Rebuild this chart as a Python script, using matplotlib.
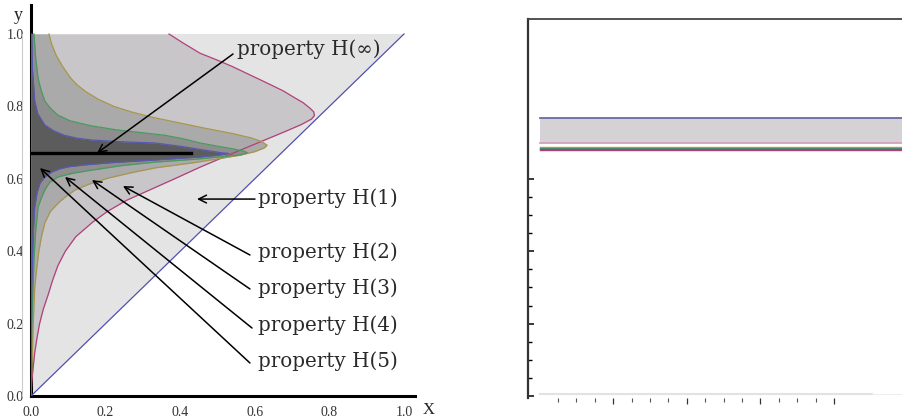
import matplotlib
matplotlib.use("Agg")
import matplotlib.pyplot as plt
from matplotlib.lines import Line2D

# curves: x of each boundary as a function of y
mag_y = [0.0, 0.02, 0.05, 0.08, 0.12, 0.16, 0.20, 0.24, 0.28, 0.32, 0.36, 0.40, 0.44,
         0.48, 0.51, 0.54, 0.57, 0.60, 0.633, 0.67, 0.70, 0.73, 0.75, 0.765, 0.775,
         0.785, 0.795, 0.81, 0.825, 0.843, 0.865, 0.887, 0.91, 0.928, 0.947, 0.975, 1.0]
mag_x = [0.0, 0.001, 0.003, 0.006, 0.010, 0.016, 0.023, 0.033, 0.046, 0.058, 0.072,
         0.092, 0.12, 0.165, 0.205, 0.255, 0.32, 0.385, 0.455, 0.54, 0.61, 0.68, 0.725,
         0.752, 0.760, 0.758, 0.748, 0.73, 0.705, 0.676, 0.632, 0.587, 0.54, 0.499,
         0.453, 0.408, 0.37]

ol_y = [0.0, 0.1, 0.2, 0.3, 0.35, 0.40, 0.44, 0.478, 0.51, 0.533, 0.55, 0.569, 0.585,
        0.602, 0.617, 0.63, 0.645, 0.655, 0.665, 0.675, 0.685, 0.693, 0.703, 0.713, 0.725,
        0.74, 0.755, 0.77, 0.785, 0.80, 0.82, 0.84, 0.86, 0.88, 0.91, 0.94, 0.97, 1.0]
ol_x = [0.0, 0.003, 0.006, 0.010, 0.015, 0.021, 0.028, 0.037, 0.052, 0.073, 0.092,
        0.118, 0.155, 0.207, 0.27, 0.332, 0.44, 0.50, 0.56, 0.60, 0.625, 0.633, 0.618,
        0.59, 0.54, 0.465, 0.395, 0.325, 0.268, 0.222, 0.18, 0.148, 0.123, 0.105,
        0.085, 0.068, 0.056, 0.048]

gr_y = [0.0, 0.2, 0.376, 0.45, 0.522, 0.545, 0.569, 0.59, 0.605, 0.615, 0.624, 0.636,
        0.646, 0.655, 0.66, 0.666, 0.672, 0.676, 0.682, 0.69, 0.699, 0.71, 0.72, 0.727,
        0.735, 0.746, 0.76, 0.776, 0.795, 0.815, 0.845, 0.878, 0.94, 1.0]
gr_x = [0.0, 0.002, 0.008, 0.012, 0.019, 0.027, 0.037, 0.05, 0.072, 0.11, 0.163, 0.24,
        0.332, 0.453, 0.5, 0.56, 0.58, 0.572, 0.545, 0.5, 0.453, 0.41, 0.36, 0.30, 0.23,
        0.163, 0.105, 0.072, 0.052, 0.037, 0.027, 0.019, 0.012, 0.008]

bl_y = [0.0, 0.3, 0.45, 0.522, 0.56, 0.588, 0.605, 0.619, 0.627, 0.633, 0.638, 0.644,
        0.652, 0.66, 0.665, 0.67, 0.672, 0.68, 0.69, 0.699, 0.702, 0.707, 0.712, 0.72,
        0.733, 0.749, 0.78, 0.815, 0.9, 1.0]
bl_x = [0.0, 0.002, 0.006, 0.010, 0.016, 0.024, 0.037, 0.056, 0.075, 0.099, 0.14, 0.207,
        0.332, 0.45, 0.5, 0.53, 0.51, 0.46, 0.40, 0.332, 0.25, 0.163, 0.125, 0.09, 0.06,
        0.037, 0.018, 0.010, 0.004, 0.002]

ticks = [0.0, 0.2, 0.4, 0.6, 0.8, 1.0]
tick_labels = ["0.0", "0.2", "0.4", "0.6", "0.8", "1.0"]

# right panel levels
band_top = 0.768
band_bottom = 0.699
level_vals = [0.689, 0.686, 0.683, 0.680]
level_cols = ["#b0a060", "#4a9a5e", "#5858b0", "#b0407c"]

fig = plt.figure(figsize=(9.03, 4.18), dpi=100)
W, H = 903.0, 418.0

# ---- left panel ----
ax = fig.add_axes([31 / W, (H - 396) / H, 384 / W, 391 / H])
ax.set_xlim(0, 1.0295)
ax.set_ylim(0, 1.0801)

ax.fill([0, 0, 1], [0, 1, 1], color="#e4e4e4", lw=0, zorder=1)
ax.fill_betweenx(mag_y, 0, mag_x, color="#c8c6c8", lw=0, zorder=2)
ax.fill_betweenx(ol_y, 0, ol_x, color="#aaaaaa", lw=0, zorder=3)
ax.fill_betweenx(gr_y, 0, gr_x, color="#8e8e8e", lw=0, zorder=4)
ax.fill_betweenx(bl_y, 0, bl_x, color="#5c5c5c", lw=0, zorder=5)

ax.plot(mag_x, mag_y, color="#b0407c", lw=0.9, zorder=6)
ax.plot(ol_x, ol_y, color="#a8964a", lw=0.9, zorder=6)
ax.plot(gr_x, gr_y, color="#4a9a5e", lw=0.9, zorder=6)
ax.plot(bl_x, bl_y, color="#5858b0", lw=0.9, zorder=6)
ax.plot([0, 1], [0, 1], color="#5050b0", lw=0.9, zorder=6)

# thick line for H(inf)
ax.plot([0, 0.43], [0.671, 0.671], color="black", lw=2.4, zorder=7)

for s in ["top", "right"]:
    ax.spines[s].set_visible(False)
for s in ["left", "bottom"]:
    ax.spines[s].set_linewidth(2.2)
ax.set_xticks(ticks)
ax.set_xticklabels(tick_labels)
ax.set_yticks(ticks)
ax.set_yticklabels(tick_labels)
ax.tick_params(length=0, labelsize=10, colors="#333333")
ax.tick_params(axis="x", pad=7)
ax.tick_params(axis="y", pad=5)
for lab in ax.get_xticklabels() + ax.get_yticklabels():
    lab.set_family("Liberation Serif")

fig.text(18 / W, 1 - 16 / H, "y", family="Liberation Serif", fontsize=13,
         ha="center", va="center", color="#222222")
fig.text(429 / W, 1 - 410 / H, "X", family="Liberation Serif", fontsize=12,
         ha="center", va="center", color="#222222")
fig.add_artist(Line2D([22 / W, 22 / W], [1 - 34 / H, 1 - 396 / H], color="#cccccc", lw=0.8))

# annotations
arr = dict(arrowstyle="->", color="black", lw=1.1, mutation_scale=14, shrinkA=0, shrinkB=0)
tfont = dict(family="DejaVu Serif", fontsize=14.3, color="#2a2a2a", va="center", ha="left")

ax.annotate("", xy=(0.177, 0.671), xytext=(0.5416, 0.9448), arrowprops=arr, zorder=8)
ax.text(0.552, 0.959, "property H(∞)", zorder=8, **tfont)

ax.annotate("", xy=(0.445, 0.544), xytext=(0.6005, 0.544), arrowprops=arr, zorder=8)
ax.text(0.608, 0.547, "property H(1)", zorder=8, **tfont)

labels_tail = [("property H(2)", (0.2466, 0.580), (0.587, 0.3895), 0.398),
               ("property H(3)", (0.1635, 0.5967), (0.587, 0.2956), 0.298),
               ("property H(4)", (0.0912, 0.605), (0.5925, 0.1878), 0.196),
               ("property H(5)", (0.0241, 0.6298), (0.587, 0.0912), 0.097)]
for txt, head, tail, ty in labels_tail:
    ax.annotate("", xy=head, xytext=tail, arrowprops=arr, zorder=8)
    ax.text(0.608, ty, txt, zorder=8, **tfont)

# ---- right panel ----
ax2 = fig.add_axes([528 / W, (H - 398) / H, (W - 528) / W, 379 / H])
ax2.set_ylim(-0.0055, 1.0414)
ax2.set_xlim(-0.63, 19.75)

ax2.fill_between([0, 19.75], band_bottom, band_top, color="#d4d2d4", lw=0)
ax2.plot([0, 19.75], [band_top, band_top], color="#6a6aa8", lw=1.3)
ax2.plot([0, 19.75], [band_bottom, band_bottom], color="#d4a0c0", lw=1.3)
for v, c in zip(level_vals, level_cols):
    ax2.plot([0, 19.75], [v, v], color=c, lw=1.0)
ax2.plot([0, 18.07], [0.0055, 0.0055], color="#e2e2e2", lw=1.5)
ax2.plot([18.07, 19.75], [0.0055, 0.0055], color="#eeeeee", lw=0.8)

ax2.spines["right"].set_visible(False)
ax2.spines["bottom"].set_visible(False)
ax2.spines["left"].set_linewidth(1.6)
ax2.spines["left"].set_color("#333333")
ax2.spines["top"].set_linewidth(1.3)
ax2.spines["top"].set_color("#444444")

ax2.set_yticks([0.0, 0.2, 0.4, 0.6])
ax2.set_yticks([0.05, 0.1, 0.15, 0.25, 0.3, 0.35, 0.45, 0.5, 0.55], minor=True)
ax2.set_xticks([4, 8, 12, 16])
ax2.set_xticks([1, 2, 3, 5, 6, 7, 9, 10, 11, 13, 14, 15], minor=True)
ax2.tick_params(axis="y", which="major", direction="in", length=4, width=1.1, labelleft=False)
ax2.tick_params(axis="y", which="minor", direction="in", length=3, width=1.0)
ax2.tick_params(axis="x", which="major", direction="out", length=4, width=0.9,
                color="#333333", labelbottom=False)
ax2.tick_params(axis="x", which="minor", direction="out", length=3, width=0.8,
                color="#555555")

fig.savefig("out.png", dpi=100)
